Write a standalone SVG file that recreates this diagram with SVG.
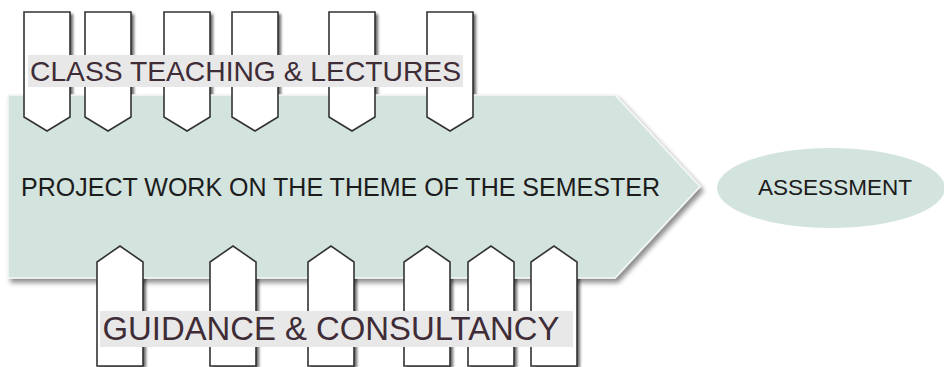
<svg xmlns="http://www.w3.org/2000/svg" xmlns:xlink="http://www.w3.org/1999/xlink" width="944" height="367" viewBox="0 0 944 367">
  <style>
    .tab { fill: #ffffff; stroke: #333333; stroke-width: 1.6; stroke-linejoin: miter; }
    .tabshadow { fill: #000000; opacity: 0.6; filter: url(#blur); }
    .label-bg { fill: #e8e8e8; }
    .label { font-family: "Liberation Sans", Arial, sans-serif; fill: #3e2c36; }
    .main { font-family: "Liberation Sans", Arial, sans-serif; fill: #1c1c1c; }
    .green { fill: #d3e3dd; }
  </style>
  <defs>
    <filter id="blur" x="-20%" y="-20%" width="140%" height="140%">
      <feGaussianBlur stdDeviation="1.6"/>
    </filter>
    <filter id="dropshadow" x="-5%" y="-10%" width="115%" height="125%">
      <feGaussianBlur in="SourceAlpha" stdDeviation="2.5"/>
      <feOffset dx="3" dy="4" result="b"/>
      <feComponentTransfer><feFuncA type="linear" slope="0.45"/></feComponentTransfer>
      <feMerge><feMergeNode/><feMergeNode in="SourceGraphic"/></feMerge>
    </filter>
    <path id="tabDown" d="M0,0 H46 V105 L23,119 L0,105 Z"/>
    <path id="tabUp" d="M0,16 L23,0 L46,16 V120 H0 Z"/>
  </defs>

  <!-- tab shadows (lie beneath the main arrow) -->
  <g id="tab-shadows">
    <use xlink:href="#tabDown" class="tabshadow" x="27" y="14"/>
    <use xlink:href="#tabDown" class="tabshadow" x="88" y="14"/>
    <use xlink:href="#tabDown" class="tabshadow" x="167" y="14"/>
    <use xlink:href="#tabDown" class="tabshadow" x="235" y="14"/>
    <use xlink:href="#tabDown" class="tabshadow" x="332" y="14"/>
    <use xlink:href="#tabDown" class="tabshadow" x="430" y="14"/>
    <use xlink:href="#tabUp" class="tabshadow" x="100" y="248"/>
    <use xlink:href="#tabUp" class="tabshadow" x="213" y="248"/>
    <use xlink:href="#tabUp" class="tabshadow" x="311" y="248"/>
    <use xlink:href="#tabUp" class="tabshadow" x="407" y="248"/>
    <use xlink:href="#tabUp" class="tabshadow" x="471" y="248"/>
    <use xlink:href="#tabUp" class="tabshadow" x="534" y="248"/>
  </g>

  <g id="project-work">
    <path class="green" d="M8,95 H615 L700,186.5 L615,278 H8 Z" stroke="#f4f8f6" stroke-width="1.5" filter="url(#dropshadow)"/>
    <text class="main" x="21" y="196" font-size="25" textLength="639" lengthAdjust="spacingAndGlyphs">PROJECT WORK ON THE THEME OF THE SEMESTER</text>
  </g>

  <g id="class-teaching">
    <use xlink:href="#tabDown" class="tab" x="24" y="12"/>
    <use xlink:href="#tabDown" class="tab" x="85" y="12"/>
    <use xlink:href="#tabDown" class="tab" x="164" y="12"/>
    <use xlink:href="#tabDown" class="tab" x="232" y="12"/>
    <use xlink:href="#tabDown" class="tab" x="329" y="12"/>
    <use xlink:href="#tabDown" class="tab" x="427" y="12"/>
    <rect class="label-bg" x="28" y="55" width="435" height="32"/>
    <text class="label" x="30" y="81" font-size="28" textLength="431" lengthAdjust="spacingAndGlyphs">CLASS TEACHING &amp; LECTURES</text>
  </g>

  <g id="guidance">
    <use xlink:href="#tabUp" class="tab" x="97" y="246"/>
    <use xlink:href="#tabUp" class="tab" x="210" y="246"/>
    <use xlink:href="#tabUp" class="tab" x="308" y="246"/>
    <use xlink:href="#tabUp" class="tab" x="404" y="246"/>
    <use xlink:href="#tabUp" class="tab" x="468" y="246"/>
    <use xlink:href="#tabUp" class="tab" x="531" y="246"/>
    <rect class="label-bg" x="100" y="311" width="473" height="36"/>
    <text class="label" x="102.5" y="340" font-size="32.5" textLength="457" lengthAdjust="spacingAndGlyphs">GUIDANCE &amp; CONSULTANCY</text>
  </g>

  <g id="assessment">
    <ellipse class="green" cx="831" cy="188" rx="114" ry="40"/>
    <text class="main" x="835" y="195" font-size="22.5" text-anchor="middle">ASSESSMENT</text>
  </g>
</svg>
